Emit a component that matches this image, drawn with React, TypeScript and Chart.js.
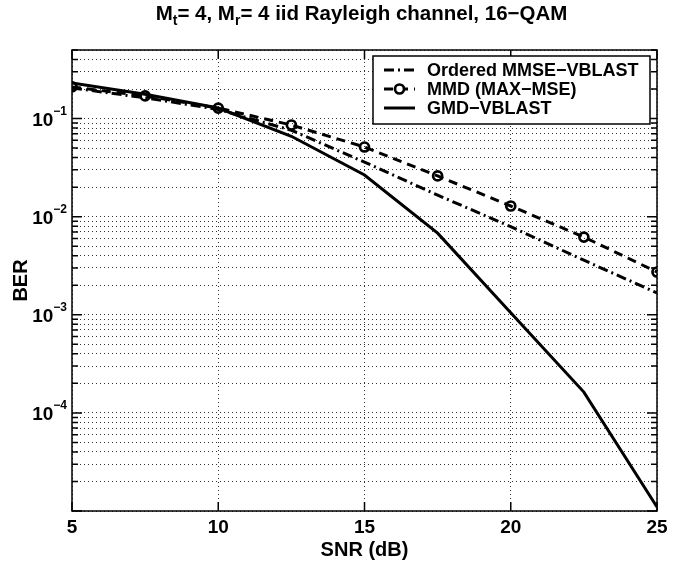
import React, { useEffect, useRef } from "react";
import { Chart, registerables } from "chart.js";

Chart.register(...registerables);

// ---- data ----
const snrDb = [5, 7.5, 10, 12.5, 15, 17.5, 20, 22.5, 25];
const orderedMmseVblast = [0.205, 0.163, 0.124, 0.076, 0.036, 0.0166, 0.0079, 0.0036, 0.00167];
const mmdMaxMse = [0.21, 0.17, 0.128, 0.086, 0.0513, 0.026, 0.01285, 0.0062, 0.00273];
const gmdVblast = [0.23, 0.177, 0.128, 0.066, 0.0266, 0.0068, 0.00105, 0.000163, 0.000011];
const seriesNames = ["Ordered MMSE\u2212VBLAST", "MMD (MAX\u2212MSE)", "GMD\u2212VBLAST"];
const xTickValues = [5, 10, 15, 20, 25];
const xTickLabels = ["5", "10", "15", "20", "25"];
const yDecades = [-5, -4, -3, -2, -1];
const yDecadeLabels = ["", "\u22124", "\u22123", "\u22122", "\u22121"];
const titleParts = [
  { text: "M", sub: false },
  { text: "t", sub: true },
  { text: "= 4, M", sub: false },
  { text: "r", sub: true },
  { text: "= 4 iid Rayleigh channel, 16\u2212QAM", sub: false },
];
const xTitle = "SNR (dB)";
const yTitle = "BER";

const FONT = '"Liberation Sans", Arial, Helvetica, sans-serif';

const framePlugin = {
  id: "matlabFrame",
  afterDatasetsDraw(chart: any) {
    const { ctx, chartArea: a, scales } = chart;
    const x = scales.x;
    const y = scales.y;
    ctx.save();
    ctx.setLineDash([]);
    ctx.strokeStyle = "#000";
    ctx.lineWidth = 1.5;
    // ticks (inward, all four sides)
    ctx.beginPath();
    for (const v of xTickValues) {
      const px = x.getPixelForValue(v);
      ctx.moveTo(px, a.bottom);
      ctx.lineTo(px, a.bottom - 9);
      ctx.moveTo(px, a.top);
      ctx.lineTo(px, a.top + 9);
    }
    for (const t of y.ticks) {
      const py = y.getPixelForValue(t.value);
      const lg = Math.log10(t.value);
      const major = Math.abs(lg - Math.round(lg)) < 1e-9;
      const len = major ? 10 : 6;
      ctx.moveTo(a.left, py);
      ctx.lineTo(a.left + len, py);
      ctx.moveTo(a.right, py);
      ctx.lineTo(a.right - len, py);
    }
    ctx.stroke();
    ctx.strokeRect(a.left, a.top, a.right - a.left, a.bottom - a.top);

    // legend box
    const lx = 373, ly = 56, lw = 277, lh = 68;
    ctx.fillStyle = "#fff";
    ctx.fillRect(lx, ly, lw, lh);
    ctx.lineWidth = 1.5;
    ctx.strokeRect(lx, ly, lw, lh);
    const rows = [70, 89, 108];
    chart.data.datasets.forEach((ds: any, i: number) => {
      const ry = rows[i];
      ctx.save();
      ctx.strokeStyle = ds.borderColor;
      ctx.lineWidth = ds.borderWidth;
      ctx.setLineDash(ds.borderDash || []);
      ctx.beginPath();
      ctx.moveTo(384, ry);
      ctx.lineTo(415, ry);
      ctx.stroke();
      if (ds.pointRadius > 0) {
        ctx.setLineDash([]);
        ctx.lineWidth = ds.pointBorderWidth;
        ctx.beginPath();
        ctx.arc(399.5, ry, ds.pointRadius, 0, Math.PI * 2);
        ctx.fillStyle = "#fff";
        ctx.fill();
        ctx.stroke();
      }
      ctx.restore();
      ctx.fillStyle = "#000";
      ctx.font = `bold 18px ${FONT}`;
      ctx.textAlign = "left";
      ctx.textBaseline = "middle";
      ctx.fillText(ds.label, 427, ry + 1);
    });
    ctx.restore();
  },
  afterDraw(chart: any) {
    const { ctx, chartArea: a, scales } = chart;
    const x = scales.x;
    const y = scales.y;
    ctx.save();
    ctx.fillStyle = "#000";
    // x tick labels
    ctx.font = `bold 19px ${FONT}`;
    ctx.textAlign = "center";
    ctx.textBaseline = "alphabetic";
    xTickValues.forEach((v, i) => {
      ctx.fillText(xTickLabels[i], x.getPixelForValue(v), a.bottom + 22);
    });
    // y tick labels: 10 with superscript exponent
    yDecades.forEach((d, i) => {
      const lab = yDecadeLabels[i];
      if (!lab) return;
      const py = y.getPixelForValue(Math.pow(10, d));
      ctx.font = `bold 12px ${FONT}`;
      const wSup = ctx.measureText(lab).width;
      ctx.font = `bold 19px ${FONT}`;
      const wBase = ctx.measureText("10").width;
      const right = a.left - 5;
      ctx.textAlign = "left";
      ctx.fillText("10", right - wSup - wBase, py + 7);
      ctx.font = `bold 12px ${FONT}`;
      ctx.fillText(lab, right - wSup, py - 4);
    });
    // axis titles
    ctx.font = `bold 20px ${FONT}`;
    ctx.textAlign = "center";
    ctx.fillText(xTitle, (a.left + a.right) / 2, 556);
    ctx.save();
    ctx.translate(27, (a.top + a.bottom) / 2);
    ctx.rotate(-Math.PI / 2);
    ctx.textBaseline = "alphabetic";
    ctx.fillText(yTitle, 0, 0);
    ctx.restore();
    // title with subscripts
    const big = `bold 20.5px ${FONT}`;
    const small = `bold 14px ${FONT}`;
    let total = 0;
    for (const p of titleParts) {
      ctx.font = p.sub ? small : big;
      total += ctx.measureText(p.text).width;
    }
    let cx = (a.left + a.right) / 2 - total / 2 - 3;
    ctx.textAlign = "left";
    for (const p of titleParts) {
      ctx.font = p.sub ? small : big;
      ctx.fillText(p.text, cx, p.sub ? 25 : 20);
      cx += ctx.measureText(p.text).width;
    }
    ctx.restore();
  },
};

export default function App() {
  const ref = useRef<HTMLCanvasElement | null>(null);
  useEffect(() => {
    if (!ref.current) return;
    const yTicks: number[] = [];
    for (const d of yDecades) {
      for (let k = 1; k <= 9; k++) {
        const v = k * Math.pow(10, d);
        if (v <= 0.5 + 1e-12) yTicks.push(Number(v.toPrecision(3)));
      }
    }
    const chart = new Chart(ref.current, {
      type: "line",
      data: {
        labels: snrDb,
        datasets: [
          {
            label: seriesNames[0],
            data: snrDb.map((s, i) => ({ x: s, y: orderedMmseVblast[i] })),
            borderColor: "#000",
            borderWidth: 3,
            borderDash: [10, 4, 2, 4],
            pointRadius: 0,
            pointBorderWidth: 0,
            fill: false,
            tension: 0,
          },
          {
            label: seriesNames[1],
            data: snrDb.map((s, i) => ({ x: s, y: mmdMaxMse[i] })),
            borderColor: "#000",
            borderWidth: 3,
            borderDash: [9, 6],
            pointRadius: 4.5,
            pointBorderWidth: 2.7,
            pointBackgroundColor: "rgba(255,255,255,0)",
            pointBorderColor: "#000",
            fill: false,
            tension: 0,
          },
          {
            label: seriesNames[2],
            data: snrDb.map((s, i) => ({ x: s, y: gmdVblast[i] })),
            borderColor: "#000",
            borderWidth: 3,
            borderDash: [],
            pointRadius: 0,
            pointBorderWidth: 0,
            fill: false,
            tension: 0,
          },
        ],
      },
      options: {
        responsive: false,
        maintainAspectRatio: false,
        animation: false,
        events: [],
        layout: { padding: { left: 72, right: 23, top: 50, bottom: 52 } },
        plugins: {
          legend: { display: false },
          title: { display: false },
          tooltip: { enabled: false },
        },
        scales: {
          x: {
            type: "linear",
            min: 5,
            max: 25,
            afterBuildTicks: (s: any) => {
              s.ticks = xTickValues.map((v) => ({ value: v }));
            },
            ticks: { display: false },
            grid: { color: "rgba(0,0,0,0.8)", lineWidth: 1, drawTicks: false },
            border: { display: false, dash: [1, 3] },
          },
          y: {
            type: "logarithmic",
            min: 1e-5,
            max: 0.5,
            afterBuildTicks: (s: any) => {
              s.ticks = yTicks.map((v) => ({ value: v }));
            },
            ticks: { display: false },
            grid: { color: "rgba(0,0,0,0.8)", lineWidth: 1, drawTicks: false },
            border: { display: false, dash: [1, 3] },
          },
        },
      },
      plugins: [framePlugin],
    } as any);
    return () => chart.destroy();
  }, []);
  return (
    <div style={{ position: "fixed", left: 0, top: 0, width: 680, height: 563, background: "#fff" }}>
      <canvas ref={ref} width={680} height={563} style={{ display: "block" }} />
    </div>
  );
}
